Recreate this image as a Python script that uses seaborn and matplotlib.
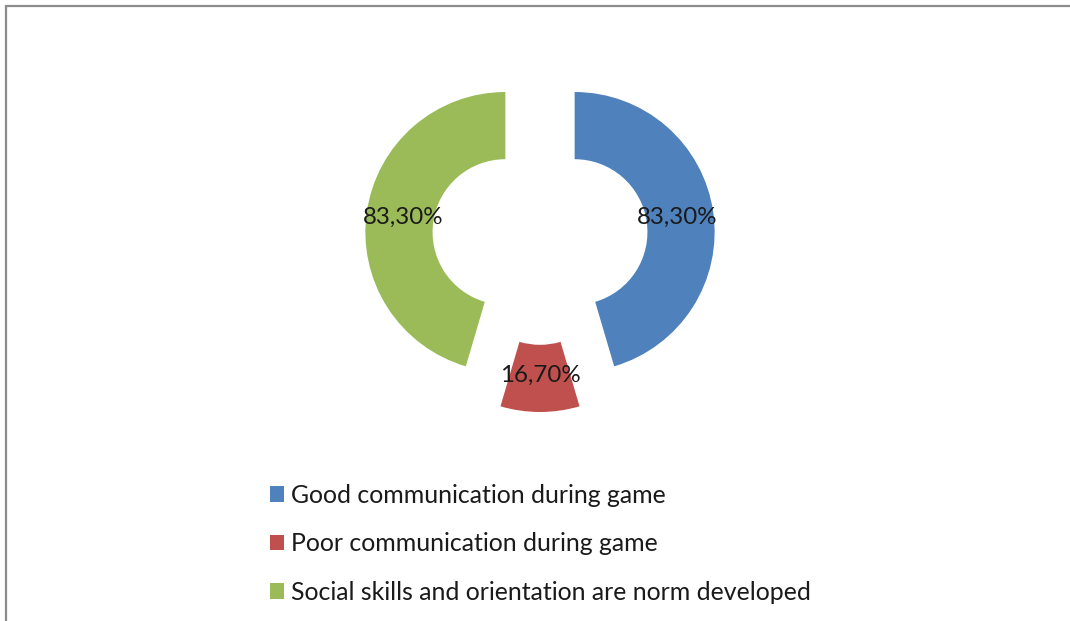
import matplotlib
matplotlib.use("Agg")
import matplotlib.pyplot as plt
from matplotlib.patches import Patch
from matplotlib.lines import Line2D
import seaborn as sns

# chart data
categories = ["Good communication during game",
              "Poor communication during game",
              "Social skills and orientation are norm developed"]
values = [83.3, 16.7, 83.3]
colors = ["#4F81BD", "#C0504D", "#9BBB59"]

sns.set_theme(style="white")
plt.rcParams['font.family'] = ['Lato', 'DejaVu Sans']

W, H = 1070, 621
fig = plt.figure(figsize=(W / 100, H / 100), dpi=100)
fig.patch.set_facecolor("white")

# pie axes: centre at (540, 237) px, radius 140 px
cx, cy, R, half = 540, 237, 140, 200
ax = fig.add_axes([(cx - half) / W, (H - cy - half) / H, 2 * half / W, 2 * half / H])

total = sum(values)


def fmt(pct):
    return f"{pct * total / 100:.2f}%".replace(".", ",")


wedges, texts, autotexts = ax.pie(
    values, colors=colors, startangle=90, counterclock=False,
    explode=[0.25] * len(values), autopct=fmt, pctdistance=0.74,
    wedgeprops=dict(width=0.48, linewidth=0),
    textprops=dict(fontsize=17.4, color="#1a1a1a"))
lim = half / R
ax.set_xlim(-lim, lim)
ax.set_ylim(-lim, lim)
ax.set_aspect("equal")
ax.axis("off")

# legend
handles = [Patch(facecolor=c, edgecolor="none") for c in colors]
fig.legend(handles, categories, loc="upper left",
           bbox_to_anchor=(270 / W, 1 - 484 / H), frameon=False,
           fontsize=17.9, handlelength=0.58, handleheight=0.58,
           handletextpad=0.25, labelspacing=1.02, borderpad=0,
           borderaxespad=0, labelcolor="#1a1a1a")

# chart area border (top and left visible)
fig.add_artist(Line2D([6 / W, 1], [1 - 6 / H, 1 - 6 / H], color="#8c8c8c", lw=1.6,
                      transform=fig.transFigure))
fig.add_artist(Line2D([6 / W, 6 / W], [0, 1 - 6 / H], color="#8c8c8c", lw=1.6,
                      transform=fig.transFigure))

fig.savefig("out.png", dpi=100)
